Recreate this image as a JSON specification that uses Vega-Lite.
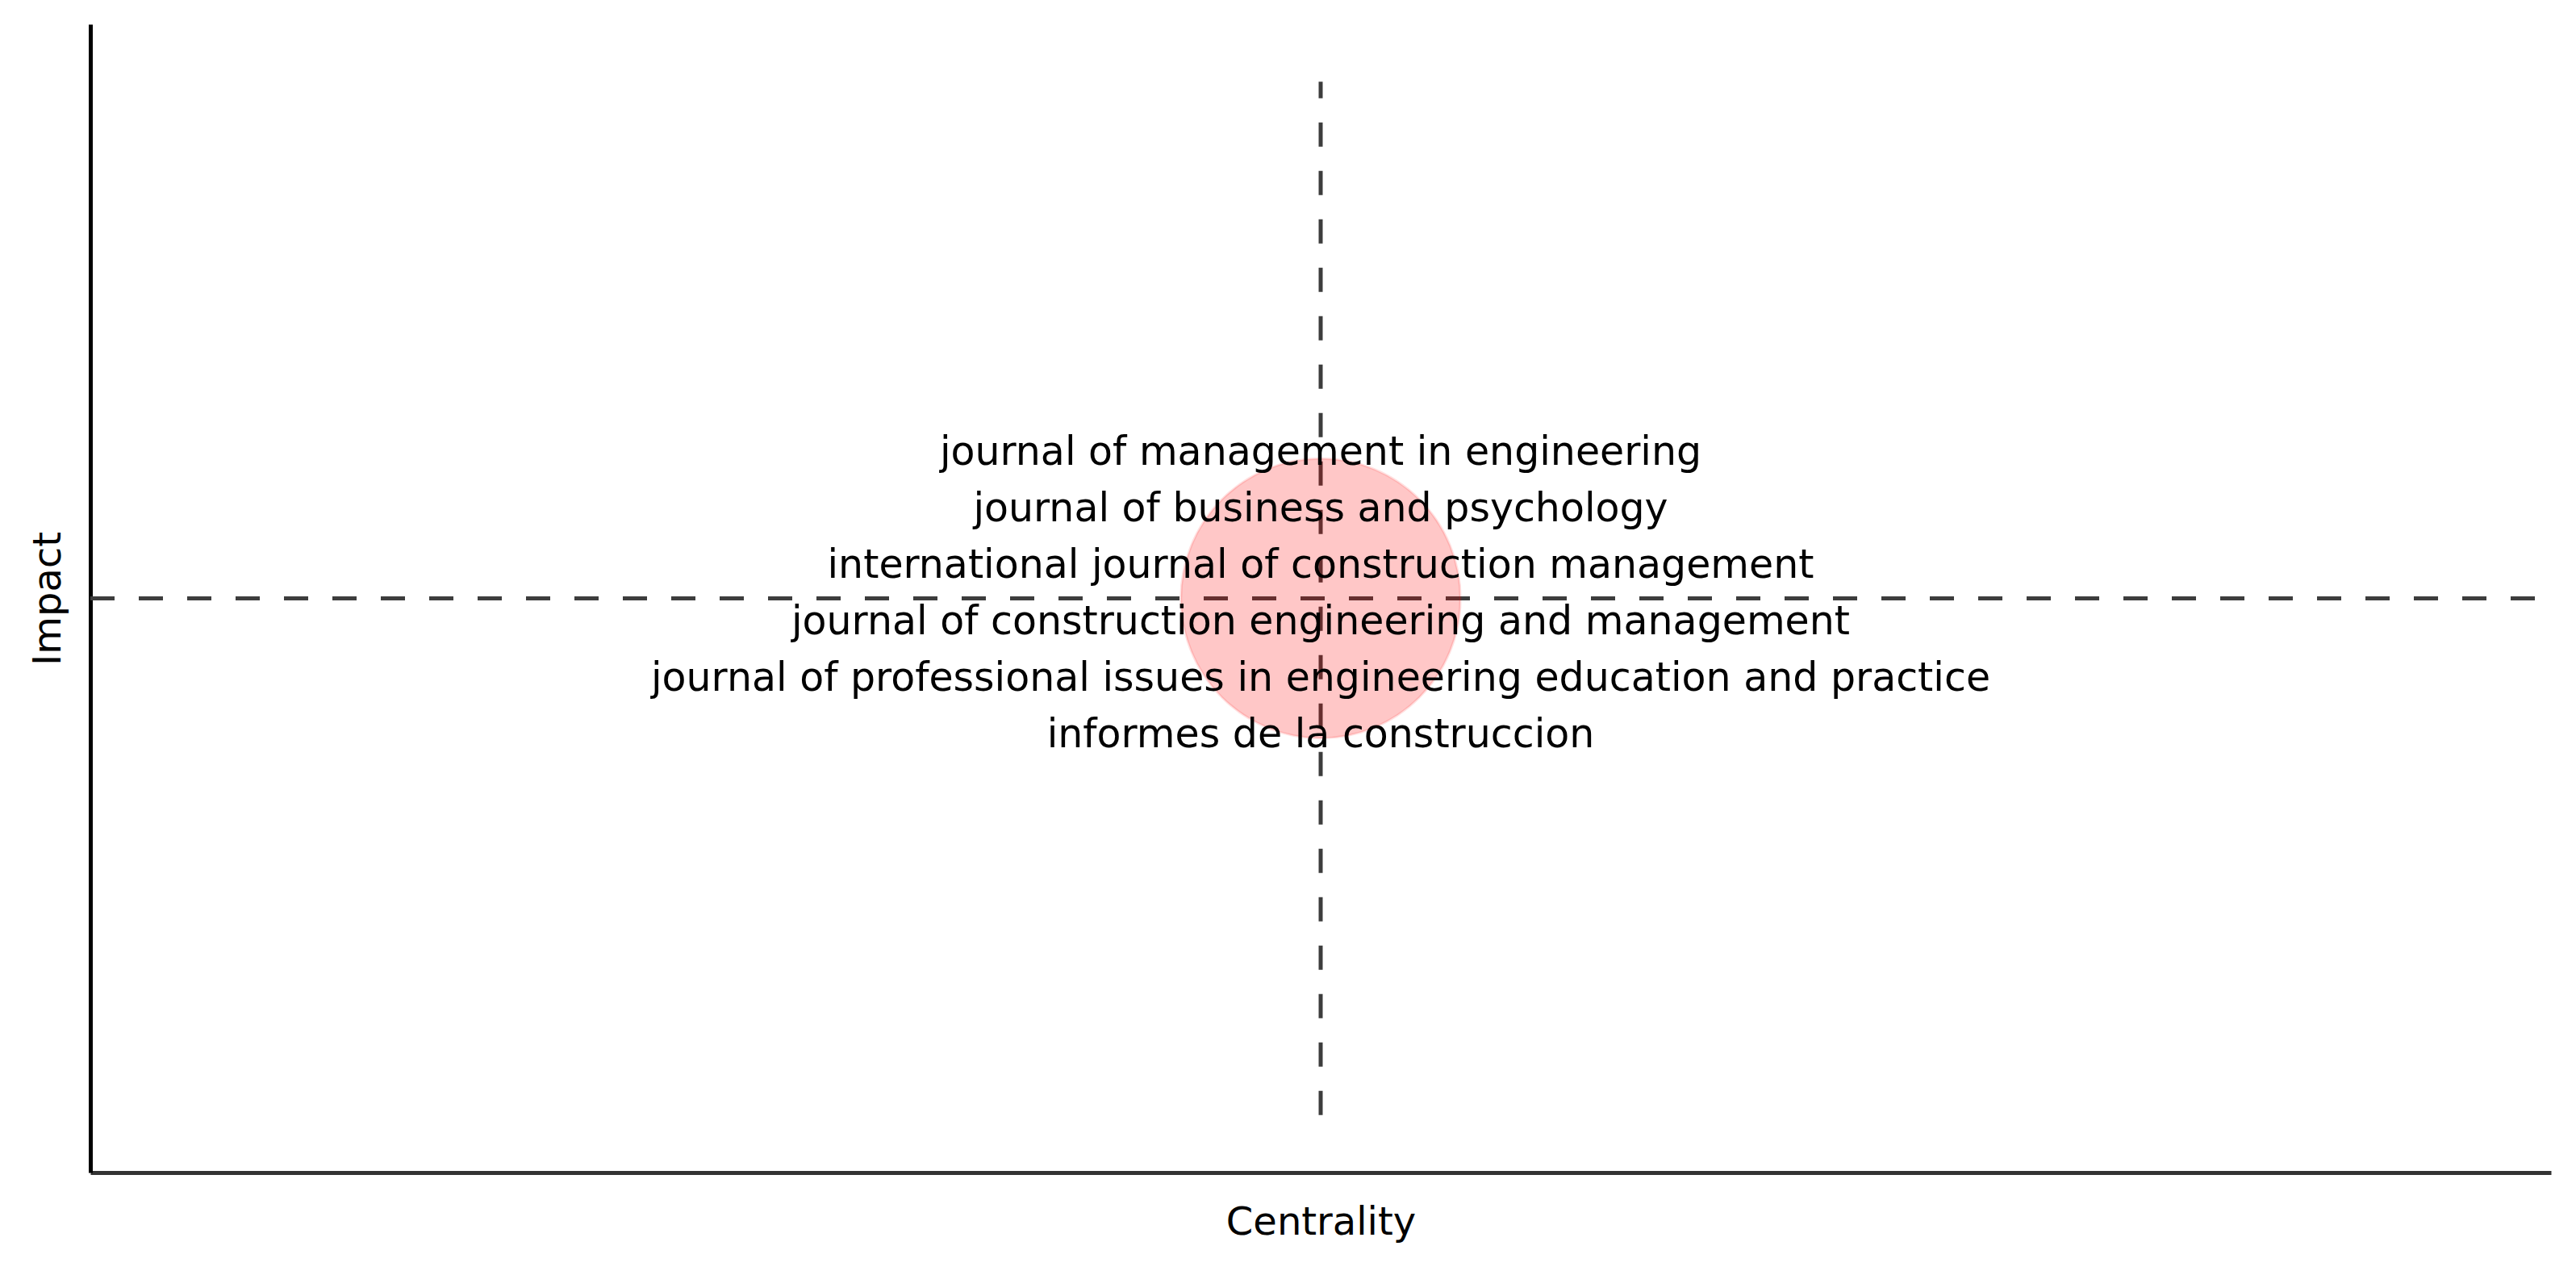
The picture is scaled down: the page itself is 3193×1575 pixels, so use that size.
{
  "$schema": "https://vega.github.io/schema/vega-lite/v6.json",
  "autosize": "none",
  "width": 3050,
  "height": 1423,
  "padding": {"left": 112, "top": 30, "right": 31, "bottom": 122},
  "background": "white",
  "config": {"view": {"stroke": null}, "font": "DejaVu Sans"},
  "datasets": {
    "points": [
      {"centrality": 0.5, "impact": 0.5, "journals": "journal of management in engineering\njournal of business and psychology\ninternational journal of construction management\njournal of construction engineering and management\njournal of professional issues in engineering education and practice\ninformes de la construccion"}
    ],
    "vline": [{"centrality": 0.5, "impact_lo": 0.05, "impact_hi": 0.95}],
    "hline": [{"impact": 0.5, "centrality_lo": 0, "centrality_hi": 1}]
  },
  "layer": [
    {
      "data": {"name": "vline"},
      "mark": {"type": "rule", "color": "#3d3d3d", "strokeWidth": 5, "strokeDash": [30, 30]},
      "encoding": {
        "x": {"field": "centrality", "type": "quantitative", "scale": {"domain": [0, 1], "nice": false, "zero": false},
          "axis": {"title": "Centrality", "ticks": false, "labels": false, "grid": false, "domainColor": "#333333", "domainWidth": 5, "titleFont": "DejaVu Sans", "titleFontSize": 48, "titleFontWeight": "normal", "titleColor": "black", "titlePadding": 38}},
        "y": {"field": "impact_lo", "type": "quantitative", "scale": {"domain": [0, 1], "nice": false, "zero": false},
          "axis": {"title": "Impact", "ticks": false, "labels": false, "grid": false, "domainColor": "black", "domainWidth": 5, "titleFont": "DejaVu Sans", "titleFontSize": 48, "titleFontWeight": "normal", "titleColor": "black", "titlePadding": 28}},
        "y2": {"field": "impact_hi"}
      }
    },
    {
      "data": {"name": "hline"},
      "mark": {"type": "rule", "color": "#3d3d3d", "strokeWidth": 5, "strokeDash": [30, 30]},
      "encoding": {
        "y": {"field": "impact", "type": "quantitative"},
        "x": {"field": "centrality_lo", "type": "quantitative"},
        "x2": {"field": "centrality_hi"}
      }
    },
    {
      "data": {"name": "points"},
      "mark": {"type": "point", "shape": "circle", "filled": true, "fill": "#ff0000", "fillOpacity": 0.22, "stroke": "#ff0000", "strokeOpacity": 0.12, "strokeWidth": 3, "size": 120000},
      "encoding": {
        "x": {"field": "centrality", "type": "quantitative"},
        "y": {"field": "impact", "type": "quantitative"}
      }
    },
    {
      "data": {"name": "points"},
      "mark": {"type": "text", "font": "DejaVu Sans", "fontSize": 49, "color": "black", "align": "center", "baseline": "middle", "lineBreak": "\n", "lineHeight": 70, "dy": -181},
      "encoding": {
        "x": {"field": "centrality", "type": "quantitative"},
        "y": {"field": "impact", "type": "quantitative"},
        "text": {"field": "journals"}
      }
    }
  ]
}
